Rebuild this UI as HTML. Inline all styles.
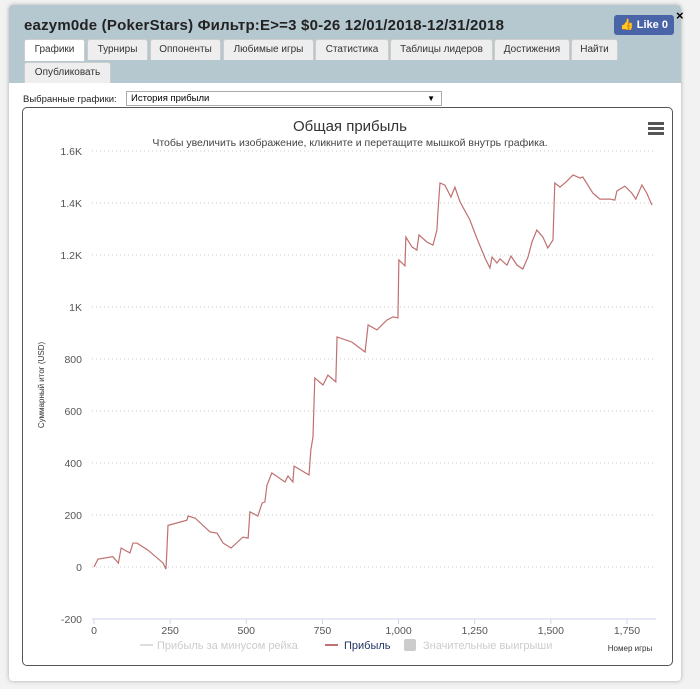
<!DOCTYPE html>
<html><head><meta charset="utf-8">
<style>
body{margin:0;width:700px;height:689px;background:#f2f2f2;font-family:"Liberation Sans","DejaVu Sans",sans-serif;position:relative;overflow:hidden}
#panel{position:absolute;left:9px;top:5px;width:672px;height:676px;background:#fff;border-radius:4px;box-shadow:0 0 4px #aaa}
#head{position:absolute;left:0;top:0;width:672px;height:78px;background:#b5c8cf;border-radius:4px 4px 0 0}
#title{position:absolute;left:15px;top:12px;font-size:15px;font-weight:bold;color:#222;letter-spacing:0.2px}
#close{position:absolute;left:667px;top:3px;font-size:13px;font-weight:bold}
#like{position:absolute;left:605px;top:10px;width:60px;height:20px;background:#4a64a8;color:#fff;font-size:11px;font-weight:bold;border-radius:3px;line-height:20px;text-align:center}
.tab{position:absolute;height:20px;line-height:20px;font-size:10px;color:#333;background:#eee;border:1px solid #ccc;border-bottom:none;text-align:center;border-radius:3px 3px 0 0}
.tab.on{background:#fff}
#sel-lbl{position:absolute;left:14px;top:89px;font-size:9.5px;color:#222}
#sel{position:absolute;left:117px;top:86px;width:310px;height:13px;border:1px solid #aaa;font-size:9.5px;line-height:13px;padding-left:4px;background:#fff}
#sel span{position:absolute;right:6px;top:0;font-size:8px}
#chartbox{position:absolute;left:13px;top:102px;width:649px;height:557px;border:1px solid #555;border-radius:5px;background:#fff}
svg{position:absolute;left:0;top:0}
</style></head><body>
<div id="panel">
 <div id="head">
  <div id="title">eazym0de (PokerStars) Фильтр:E&gt;=3 $0-26 12/01/2018-12/31/2018</div>
  <div id="close">×</div>
  <div id="like">👍 Like 0</div>
  <div class="tab on" style="left:15px;top:34px;width:59px;height:21px">Графики</div>
  <div class="tab" style="left:78px;top:34px;width:59px">Турниры</div>
  <div class="tab" style="left:141px;top:34px;width:69px">Оппоненты</div>
  <div class="tab" style="left:214px;top:34px;width:89px">Любимые игры</div>
  <div class="tab" style="left:306px;top:34px;width:72px">Статистика</div>
  <div class="tab" style="left:381px;top:34px;width:101px">Таблицы лидеров</div>
  <div class="tab" style="left:485px;top:34px;width:74px">Достижения</div>
  <div class="tab" style="left:562px;top:34px;width:45px">Найти</div>
  <div class="tab" style="left:15px;top:57px;width:85px">Опубликовать</div>
 </div>
 <div id="sel-lbl">Выбранные графики:</div>
 <div id="sel">История прибыли<span>▼</span></div>
 <div id="chartbox"></div>
</div>
<svg id="chart" width="700" height="689"></svg>
<script>
const yTicks=[-200,0,200,400,600,800,1000,1200,1400,1600];
const yTickLabels=["-200","0","200","400","600","800","1K","1.2K","1.4K","1.6K"];
const xTicks=[0,250,500,750,1000,1250,1500,1750];
const xTickLabels=["0","250","500","750","1,000","1,250","1,500","1,750"];
const games=[0,13,62,80,89,118,128,141,177,227,236,238,243,305,309,332,381,404,424,450,489,506,512,538,552,561,568,584,627,637,653,657,706,712,719,725,752,768,794,798,847,890,900,929,962,982,998,1001,1021,1024,1044,1060,1067,1093,1113,1126,1129,1136,1152,1172,1185,1202,1234,1257,1284,1300,1307,1323,1333,1356,1369,1389,1408,1425,1438,1454,1474,1490,1507,1513,1530,1550,1573,1596,1605,1638,1661,1694,1710,1717,1743,1766,1779,1799,1815,1832];
const profit=[0,30,40,15,73,54,92,92,65,15,-8,30,160,180,196,188,135,130,92,73,115,111,212,196,246,250,315,362,327,350,327,388,354,450,500,727,700,738,712,885,865,827,931,912,950,962,958,1181,1158,1269,1231,1219,1277,1250,1238,1296,1361,1477,1469,1423,1461,1404,1335,1265,1188,1150,1192,1169,1185,1161,1196,1161,1146,1192,1250,1296,1269,1227,1258,1477,1461,1481,1508,1496,1500,1438,1415,1415,1411,1446,1465,1438,1415,1469,1438,1392];
const NS="http://www.w3.org/2000/svg";
const svg=document.getElementById('chart');
const X=v=>94+(v/250)*76.14;
const Y=v=>567-(v/200)*52;
function mk(t,a,txt){const e=document.createElementNS(NS,t);for(const k in a)e.setAttribute(k,a[k]);if(txt!==undefined)e.textContent=txt;svg.appendChild(e);return e;}
let e;
e=mk('text',{x:350,y:131,'text-anchor':'middle','font-size':15,fill:'#333'},'Общая прибыль');


e=mk('text',{x:350,y:146,'text-anchor':'middle','font-size':10.5,fill:'#444'},'Чтобы увеличить изображение, кликните и перетащите мышкой внутрь графика.');


e=mk('g',{});


for(let i=0;i<3;i++){const r=document.createElementNS(NS,'rect');r.setAttribute('x',648);r.setAttribute('y',122+i*5);r.setAttribute('width',16);r.setAttribute('height',3);r.setAttribute('fill','#555');e.appendChild(r);}
yTicks.forEach((t,i)=>{
 if(t>-200){e=mk('line',{x1:92,x2:656,y1:Y(t),y2:Y(t),stroke:'#ccc','stroke-dasharray':'1,3'});
 
 }
 e=mk('text',{x:82,y:Y(t)+4,'text-anchor':'end','font-size':10.5,fill:'#555'},yTickLabels[i]);
 
 
});
e=mk('line',{x1:92,x2:656,y1:Y(-200),y2:Y(-200),stroke:'#ccd6eb'});


xTicks.forEach((t,i)=>{
 e=mk('line',{x1:X(t),x2:X(t),y1:Y(-200),y2:Y(-200)+5,stroke:'#ccd6eb'});
 
 
 e=mk('text',{x:X(t),y:Y(-200)+15,'text-anchor':'middle','font-size':10.5,fill:'#555'},xTickLabels[i]);
 
 
});
e=mk('text',{x:0,y:0,'font-size':8,fill:'#333','text-anchor':'middle',transform:'translate(44,385) rotate(-90)'},'Суммарный итог (USD)');


e=mk('text',{x:630,y:651,'font-size':8,fill:'#333','text-anchor':'middle'},'Номер игры');


e=mk('polyline',{points:games.map((g,i)=>X(g)+','+Y(profit[i])).join(' '),fill:'none',stroke:'#c07070','stroke-width':1.2});


e=mk('g',{});


mk('line',{x1:140,x2:153,y1:645,y2:645,stroke:'#ddd','stroke-width':2});
mk('text',{x:157,y:649,'font-size':11,fill:'#ccc'},'Прибыль за минусом рейка');
e=mk('g',{});


mk('line',{x1:325,x2:338,y1:645,y2:645,stroke:'#c07070','stroke-width':2});
mk('text',{x:344,y:649,'font-size':11,fill:'#223366'},'Прибыль');
e=mk('rect',{x:404,y:639,width:12,height:12,rx:2,fill:'#ccc'});


mk('text',{x:423,y:649,'font-size':11,fill:'#ccc'},'Значительные выигрыши');
</script>
</body></html>
